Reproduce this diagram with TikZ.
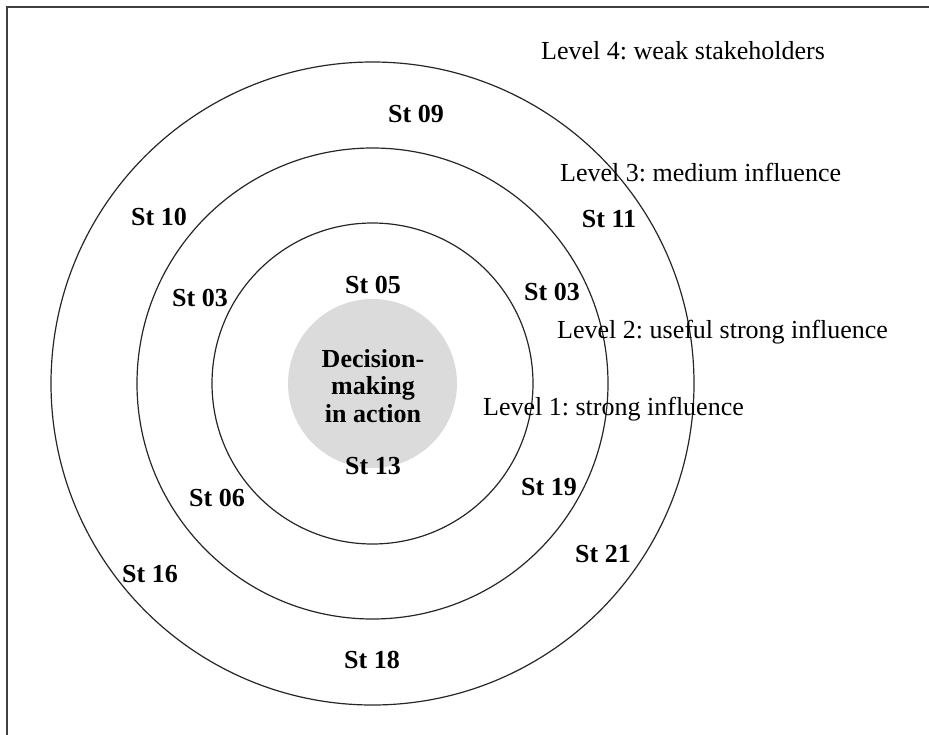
\documentclass[tikz,border=0pt]{standalone}
\usepackage{fontspec}
\setmainfont{Liberation Serif}
\frenchspacing
\begin{document}
\begin{tikzpicture}[x=1pt,y=-1pt,
  ring/.style={draw=black!85,line width=1.2pt},
  core/.style={fill=black!14,draw=none},
  stlabel/.style={font=\fontsize{26}{28}\selectfont\bfseries,inner sep=0pt},
  levellabel/.style={font=\fontsize{26}{28}\selectfont,inner sep=0pt,anchor=base west},
  corelabel/.style={font=\fontsize{26}{27.5}\selectfont\bfseries,align=center,inner sep=0pt}]
  \useasboundingbox (0,0) rectangle (929,734);
  % frame (open towards bottom and right)
  \draw[black!75,line width=2pt] (7,740) -- (7,7) -- (935,7);
  % centre and rings
  \coordinate (c) at (372.5,383.5);
  \fill[core] (c) circle[radius=84.5];
  \draw[ring] (c) circle[radius=160.5];
  \draw[ring] (c) circle[radius=235.5];
  \draw[ring] (c) circle[radius=321.5];
  \node[corelabel] (dm) at (373,386) {Decision-\\making\\in action};
  % level captions
  \node[levellabel] (l4) at (541,59) {Level 4: weak stakeholders};
  \node[levellabel] (l3) at (560,181) {Level 3: medium influence};
  \node[levellabel] (l2) at (557,338) {Level 2: useful strong influence};
  \node[levellabel] (l1) at (483,415) {Level 1: strong influence};
  % stakeholders
  \node[stlabel] (s09) at (416,114) {St 09};
  \node[stlabel] (s10) at (159,217) {St 10};
  \node[stlabel] (s11) at (609,219) {St 11};
  \node[stlabel] (s05) at (373,285) {St 05};
  \node[stlabel] (s03a) at (200,298) {St 03};
  \node[stlabel] (s03b) at (552,292) {St 03};
  \node[stlabel] (s13) at (373,466) {St 13};
  \node[stlabel] (s06) at (217,498) {St 06};
  \node[stlabel] (s19) at (549,487) {St 19};
  \node[stlabel] (s21) at (603,554) {St 21};
  \node[stlabel] (s16) at (150,574) {St 16};
  \node[stlabel] (s18) at (372,660) {St 18};
\end{tikzpicture}
\end{document}
